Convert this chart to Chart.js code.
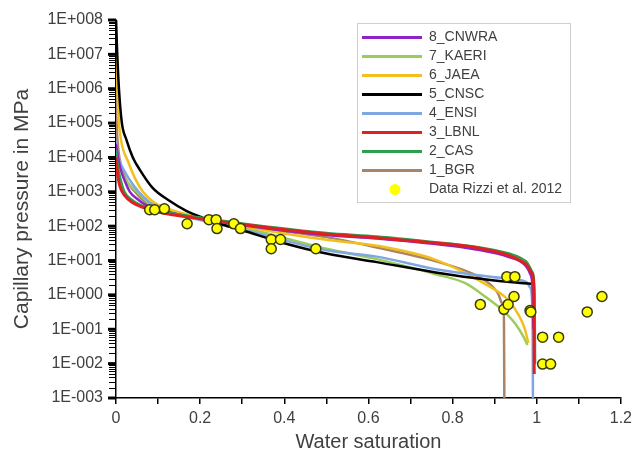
<!DOCTYPE html>
<html>
<head>
<meta charset="utf-8">
<script src="https://cdn.jsdelivr.net/npm/chart.js@4.4.0/dist/chart.umd.min.js"></script>
<style>
  html, body { margin: 0; padding: 0; background: #fff; }
  #chart { display: block; }
</style>
</head>
<body>
<canvas id="chart" width="637" height="460"></canvas>
<script>
// water saturation (x) and capillary pressure in MPa (y)

const satCNWRA = [0, 0.005, 0.01, 0.02, 0.033, 0.05, 0.08, 0.12, 0.2, 0.3, 0.5, 0.62, 0.74, 0.856, 0.934, 0.974, 0.985, 0.99, 0.992];
const pcCNWRA = [25000, 10000, 5000, 2200, 1000, 630, 355, 263, 166, 107, 55, 44, 32, 21, 12.6, 7, 4, 1.6, 0.1];

const satKAERI = [0, 0.005, 0.01, 0.025, 0.05, 0.08, 0.12, 0.2, 0.3, 0.5, 0.62, 0.76, 0.83, 0.88, 0.92, 0.95, 0.97, 0.978];
const pcKAERI = [30000, 10000, 5000, 2000, 1000, 450, 280, 166, 93, 22, 11, 4, 2.2, 0.85, 0.35, 0.14, 0.056, 0.035];

const satJAEA = [0, 0.002, 0.006, 0.012, 0.028, 0.045, 0.064, 0.09, 0.13, 0.2, 0.3, 0.5, 0.62, 0.76, 0.88, 0.93, 0.958, 0.972, 0.98];
const pcJAEA = [1e8, 3e6, 1.6e5, 3.2e4, 8000, 2500, 1000, 500, 300, 178, 100, 40, 27, 10.5, 2, 0.76, 0.25, 0.1, 0.04];

const satCNSC = [0, 0.003, 0.007, 0.014, 0.025, 0.04, 0.056, 0.087, 0.127, 0.167, 0.205, 0.245, 0.3, 0.4, 0.5, 0.62, 0.76, 0.88, 0.95, 0.993];
const pcCNSC = [1e8, 1e7, 1e6, 1e5, 3.2e4, 1e4, 4500, 1300, 550, 280, 178, 120, 76, 32, 16, 9, 4.5, 2.8, 2.3, 2.1];

const satENSI = [0, 0.004, 0.01, 0.02, 0.035, 0.054, 0.08, 0.12, 0.2, 0.3, 0.5, 0.62, 0.76, 0.88, 0.95, 0.975, 0.985, 0.99, 0.991];
const pcENSI = [30000, 13000, 7000, 4000, 2000, 1000, 500, 280, 150, 80, 20, 13, 5.6, 3.5, 2.8, 2.4, 1.6, 0.3, 0.001];

const satLBNL = [0, 0.004, 0.009, 0.02, 0.04, 0.065, 0.1, 0.2, 0.3, 0.5, 0.62, 0.74, 0.856, 0.934, 0.974, 0.99, 0.993, 0.994];
const pcLBNL = [10000, 3200, 1500, 800, 480, 350, 260, 165, 112, 59, 46, 34, 24, 14, 7.9, 4, 1.6, 0.005];

const satCAS = [0, 0.005, 0.01, 0.02, 0.04, 0.07, 0.1, 0.2, 0.3, 0.5, 0.62, 0.74, 0.856, 0.934, 0.974, 0.99, 0.995, 0.996];
const pcCAS = [16000, 5000, 2500, 1000, 560, 355, 280, 178, 120, 63, 50, 36, 25, 16, 9.5, 4.5, 1, 0.01];

const satBGR = [0, 0.003, 0.008, 0.02, 0.045, 0.08, 0.12, 0.2, 0.3, 0.5, 0.62, 0.76, 0.85, 0.89, 0.908, 0.918, 0.922, 0.923];
const pcBGR = [3e5, 4e4, 1e4, 2800, 1000, 400, 263, 158, 100, 48, 24, 9.5, 4, 2, 1.1, 0.56, 0.25, 0.001];

// measured points
const satRizzi = [0.08, 0.092, 0.115, 0.169, 0.221, 0.238, 0.24, 0.28, 0.296, 0.369, 0.391, 0.369, 0.475,
  0.866, 0.922, 0.932, 0.946, 0.929, 0.948, 0.984, 0.986, 1.014, 1.052, 1.014, 1.033, 1.12, 1.155];
const pcRizzi = [300, 300, 320, 118, 155, 155, 85, 117, 85, 41, 41, 22, 22,
  0.53, 0.38, 0.53, 0.9, 3.4, 3.4, 0.35, 0.32, 0.059, 0.059, 0.0097, 0.0097, 0.32, 0.9];

const xTicks = [0, 0.2, 0.4, 0.6, 0.8, 1, 1.2];
const yDecades = [-3, -2, -1, 0, 1, 2, 3, 4, 5, 6, 7, 8];

function toPoints(xs, ys) {
  let pts = [];
  for (let i = 0; i < xs.length; i++) {
    pts.push({ x: xs[i], y: ys[i] });
  }
  return pts;
}

function curve(label, xs, ys, color, order, width) {
  return {
    label: label,
    data: toPoints(xs, ys),
    borderColor: color,
    backgroundColor: color,
    borderWidth: width || 2.5,
    pointRadius: 0,
    cubicInterpolationMode: 'monotone',
    fill: false,
    order: order
  };
}

const fontFamily = '"Liberation Sans", Arial, sans-serif';
const textColor = '#404040';

// tick marks on the log axis (decades thick, 2..9 thin), placed through the y scale
const logTicks = {
  id: 'logTicks',
  afterDraw(chart) {
    const ctx = chart.ctx;
    const yScale = chart.scales.y;
    const x0 = chart.chartArea.left;
    ctx.save();
    ctx.strokeStyle = '#000';
    yDecades.forEach(function(e) {
      let py = yScale.getPixelForValue(Math.pow(10, e));
      ctx.lineWidth = 3;
      ctx.beginPath();
      ctx.moveTo(x0 - 8, py);
      ctx.lineTo(x0, py);
      ctx.stroke();
      if (e === 8) return;
      ctx.lineWidth = 1;
      ctx.beginPath();
      for (let s = 2; s <= 9; s++) {
        let p = Math.round(yScale.getPixelForValue(s * Math.pow(10, e))) + 0.5;
        ctx.moveTo(x0 - 7, p);
        ctx.lineTo(x0, p);
      }
      ctx.stroke();
    });
    ctx.restore();
  }
};

// legend box drawn inside the plot, like the original
const boxLegend = {
  id: 'boxLegend',
  afterDraw(chart) {
    const ctx = chart.ctx;
    const left = 357, top = 23, w = 213, h = 179;
    ctx.save();
    ctx.fillStyle = '#fff';
    ctx.fillRect(left, top, w, h);
    ctx.strokeStyle = '#cfcfcf';
    ctx.lineWidth = 1;
    ctx.strokeRect(left + 0.5, top + 0.5, w, h);
    ctx.font = '14px ' + fontFamily;
    ctx.textBaseline = 'middle';
    chart.data.datasets.forEach(function(ds, i) {
      const y = 37.5 + i * 19;
      if (ds.showLine === false) {
        ctx.beginPath();
        ctx.arc(395, y, 5.5, 0, Math.PI * 2);
        ctx.fillStyle = ds.backgroundColor;
        ctx.fill();
      } else {
        ctx.beginPath();
        ctx.moveTo(362, y);
        ctx.lineTo(422, y);
        ctx.strokeStyle = ds.borderColor;
        ctx.lineWidth = 3;
        ctx.stroke();
      }
      ctx.fillStyle = textColor;
      ctx.fillText(ds.label, 429, y);
    });
    ctx.restore();
  }
};

new Chart(document.getElementById('chart'), {
  type: 'line',
  data: {
    datasets: [
      curve('8_CNWRA', satCNWRA, pcCNWRA, '#8e24c8', 3),
      curve('7_KAERI', satKAERI, pcKAERI, '#9ccc5a', 7),
      curve('6_JAEA', satJAEA, pcJAEA, '#f2c01e', 6),
      curve('5_CNSC', satCNSC, pcCNSC, '#000000', 4),
      curve('4_ENSI', satENSI, pcENSI, '#7ea6e0', 5),
      curve('3_LBNL', satLBNL, pcLBNL, '#e02020', 1, 3),
      curve('2_CAS', satCAS, pcCAS, '#2e9e4f', 2),
      curve('1_BGR', satBGR, pcBGR, '#a98466', 8),
      {
        label: 'Data Rizzi et al. 2012',
        data: toPoints(satRizzi, pcRizzi),
        showLine: false,
        pointRadius: 5,
        pointBorderWidth: 1.5,
        pointBackgroundColor: '#ffff00',
        pointBorderColor: '#3a3a10',
        backgroundColor: '#ffff00',
        borderColor: '#3a3a10',
        order: 0
      }
    ]
  },
  options: {
    responsive: false,
    animation: false,
    devicePixelRatio: 1,
    layout: { padding: { top: 20, right: 11, left: 0, bottom: 0 } },
    plugins: {
      legend: { display: false },
      tooltip: { enabled: false }
    },
    scales: {
      x: {
        type: 'linear',
        min: 0,
        max: 1.2,
        afterFit: function(scale) { scale.height = 62; },
        border: { color: '#000', width: 1.5 },
        grid: { drawOnChartArea: false, color: '#000', tickLength: 6, lineWidth: 1.5 },
        ticks: {
          stepSize: 0.1,
          autoSkip: false,
          maxRotation: 0,
          padding: 5,
          color: textColor,
          font: { family: fontFamily, size: 16 },
          callback: function(v) {
            let r = Math.round(v * 10) / 10;
            let hit = xTicks.find(t => Math.abs(t - r) < 1e-9);
            return hit === undefined ? '' : String(hit);
          }
        },
        title: {
          display: true,
          text: 'Water saturation',
          color: textColor,
          font: { family: fontFamily, size: 20 },
          padding: { top: 0, bottom: 6 }
        }
      },
      y: {
        type: 'logarithmic',
        min: 0.001,
        max: 1e8,
        afterFit: function(scale) { scale.width = 116; },
        afterBuildTicks: function(scale) {
          scale.ticks = yDecades.map(e => ({ value: Math.pow(10, e) }));
        },
        border: { color: '#000', width: 1.5 },
        grid: { drawOnChartArea: false, drawTicks: true, color: 'rgba(0,0,0,0)', tickLength: 8 },
        ticks: {
          autoSkip: false,
          padding: 5,
          color: textColor,
          font: { family: fontFamily, size: 16 },
          callback: function(v) {
            let e = Math.round(Math.log10(v));
            return '1E' + (e < 0 ? '-' : '+') + String(Math.abs(e)).padStart(3, '0');
          }
        },
        title: {
          display: true,
          text: 'Capillary pressure in MPa',
          color: textColor,
          font: { family: fontFamily, size: 21 },
          padding: { top: 10, bottom: 0 }
        }
      }
    }
  },
  plugins: [logTicks, boxLegend]
});
</script>
</body>
</html>
